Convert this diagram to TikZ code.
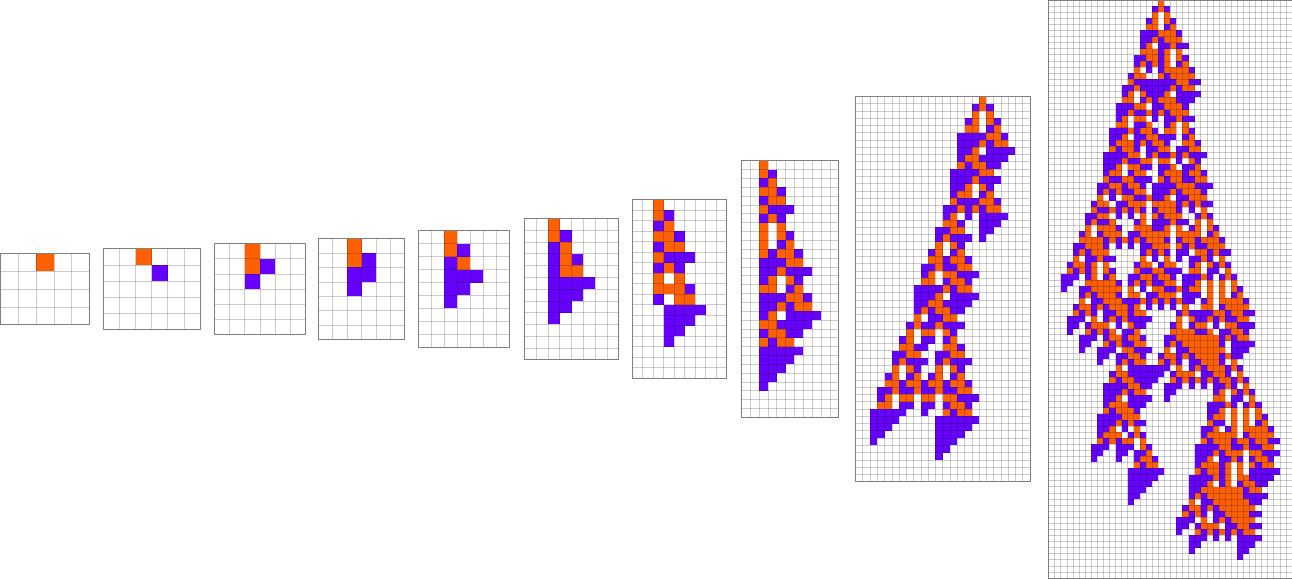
\documentclass[tikz,border=0pt]{standalone}
\definecolor{cO}{RGB}{255,96,0}
\definecolor{cP}{RGB}{102,0,255}
\tikzset{
  gridline/.style={draw=black, draw opacity=0.2, line width=0.6pt},
  frameline/.style={draw=black!50, line width=0.7pt},
  cellO/.style={fill=cO},
  cellP/.style={fill=cP}}
\makeatletter
\newcount\ca@i
\def\ca@readrule#1{\ifx\relax#1\else\expandafter\xdef\csname ca@r\the\ca@i\endcsname{#1}\global\advance\ca@i by 1\relax\expandafter\ca@readrule\fi}
\def\carule#1{\global\ca@i=0\relax\ca@readrule#1\relax}
\newcommand\cagrid[4]{%
  \pgfmathsetmacro\ca@w{#3*#2}\pgfmathsetmacro\ca@h{#4*#2}%
  \pgfmathtruncatemacro\ca@gc{#3-1}\pgfmathtruncatemacro\ca@gr{#4-1}%
  \foreach \c in {1,...,\ca@gc}{\draw[gridline] (#1+\c*#2,\ca@y) -- ++(0,\ca@h);}%
  \foreach \r in {1,...,\ca@gr}{\draw[gridline] (#1,\ca@y+\r*#2) -- ++(\ca@w,0);}%
  \draw[frameline] (#1,\ca@y) rectangle ++(\ca@w,\ca@h);%
}
\newcommand\cafill[4]{% x0 cell row col (uses \ca@v)
  \ifnum\ca@v=1 \fill[cellO] (#1+#4*#2,\ca@y+#3*#2) rectangle ++(#2,#2);%
  \else \fill[cellP] (#1+#4*#2,\ca@y+#3*#2) rectangle ++(#2,#2);\fi}
\newcommand\capanel[6]{% x0 cell ncols nrows startcol rule
  \pgfmathsetmacro\ca@y{289-#4*#2/2}%
  \carule{#6}%
  \foreach \c in {-1,...,#3}{\expandafter\xdef\csname ca@c0@\c\endcsname{0}}%
  \expandafter\xdef\csname ca@c0@#5\endcsname{1}%
  \pgfmathtruncatemacro\ca@nr{#4-1}%
  \pgfmathtruncatemacro\ca@nc{#3-1}%
  \foreach \r in {1,...,\ca@nr}{%
    \edef\ca@pr{\the\numexpr\r-1\relax}%
    \expandafter\xdef\csname ca@c\r @-1\endcsname{0}%
    \expandafter\xdef\csname ca@c\r @#3\endcsname{0}%
    \foreach \c in {0,...,\ca@nc}{%
      \edef\ca@idx{\the\numexpr 9*\csname ca@c\ca@pr @\the\numexpr\c-1\relax\endcsname+3*\csname ca@c\ca@pr @\c\endcsname+\csname ca@c\ca@pr @\the\numexpr\c+1\relax\endcsname\relax}%
      \expandafter\xdef\csname ca@c\r @\c\endcsname{\csname ca@r\ca@idx\endcsname}%
    }%
  }%
  \foreach \r in {0,...,\ca@nr}{\foreach \c in {0,...,\ca@nc}{%
    \edef\ca@v{\csname ca@c\r @\c\endcsname}%
    \ifnum\ca@v>0 \cafill{#1}{#2}{\r}{\c}\fi}}%
  \cagrid{#1}{#2}{#3}{#4}%
}
\newcommand\hpanel[5]{% x0 cell ncols nrows list
  \pgfmathsetmacro\ca@y{289-#4*#2/2}%
  \foreach \r/\c/\k in {#5}{\edef\ca@v{\k}\cafill{#1}{#2}{\r}{\c}}%
  \cagrid{#1}{#2}{#3}{#4}%
}
\makeatother
\begin{document}
\begin{tikzpicture}[x=1pt,y=-1pt]
\useasboundingbox (0,0) rectangle (1292,578);
\hpanel{0.4}{17.8}{5}{4}{0/2/1}
\hpanel{103.3}{16.1}{6}{5}{0/2/1,1/3/2}
\hpanel{214.3}{15.17}{6}{6}{0/2/1,1/2/1,1/3/2,2/2/2}
\hpanel{318.3}{14.4}{6}{7}{0/2/1,1/2/1,1/3/2,2/2/2,2/3/2,3/2/2}
\hpanel{418.3}{12.95}{7}{9}{0/2/1,1/2/1,1/3/2,2/2/2,2/3/1,3/2/2,3/3/2,3/4/2,4/2/2,4/3/2,5/2/2}
\hpanel{524.3}{11.8}{8}{12}{0/2/1,1/2/1,1/3/2,2/2/2,2/3/1,3/2/2,3/3/1,3/4/2,4/2/2,4/3/1,4/4/1,5/2/2,5/3/2,5/4/2,5/5/2,6/2/2,6/3/2,6/4/2,7/2/2,7/3/2,8/2/2}
\capanel{632}{10.5}{9}{17}{2}{000122012212201121020120012}
\capanel{741.3}{8.85}{11}{29}{2}{000122012202201121020120012}
\capanel{855.5}{7.27}{24}{53}{17}{020122012202201121020120012}
\capanel{1048.6}{6.084}{40}{95}{18}{020122012201211121020120012}
\end{tikzpicture}
\end{document}
